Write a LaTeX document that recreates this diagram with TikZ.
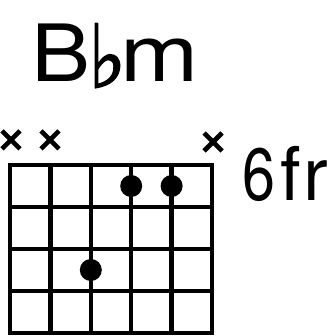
\documentclass[tikz,border=0pt]{standalone}
\usepackage{fontspec}
\setmainfont{TeX Gyre Heros}
\newfontfamily\symfont[FakeBold=1.8]{DejaVu Sans}
\begin{document}
\begin{tikzpicture}[x=1pt,y=1pt,
  gridline/.style={line width=4.5pt},
  dotmark/.style={circle,fill=black,inner sep=0pt,minimum width=20pt,minimum height=22pt},
  mutemark/.style={line width=4.6pt},
  chordtext/.style={anchor=base west,inner sep=0pt}]
\useasboundingbox (0,0) rectangle (331,336);
% title
\node[chordtext] (titleB) at (31,254) {\fontsize{79}{79}\selectfont\scalebox{1.12}[1]{B}};
\node[chordtext] (titleflat) at (88,248.5) {\resizebox{38pt}{64pt}{\symfont ♭}};
\node[chordtext] (titlem) at (120.4,254) {\fontsize{79}{79}\selectfont\scalebox{1.19}[1]{m}};
\node[chordtext] (fret) at (242.6,135) {\fontsize{74}{74}\selectfont\scalebox{0.8}[1]{6}\kern5pt f\kern2.5pt r};
% grid
\foreach \i in {0,...,5} {
  \draw[gridline] ({10+\i*40.4},3) -- ({10+\i*40.4},171);
}
\foreach \j in {0,...,4} {
  \draw[gridline] (10,{3+\j*42}) -- (212,{3+\j*42});
}
\draw[gridline] (10,3) rectangle (212,171);
% dots
\node[dotmark] (d1) at (131.2,150) {};
\node[dotmark] (d2) at (171.6,150) {};
\node[dotmark] (d3) at (90.8,66) {};
% mute marks
\foreach \cx/\cy in {11/196, 50/196, 213/194} {
  \draw[mutemark] (\cx-9,\cy-9) -- (\cx+9,\cy+9);
  \draw[mutemark] (\cx-9,\cy+9) -- (\cx+9,\cy-9);
}
\end{tikzpicture}
\end{document}
